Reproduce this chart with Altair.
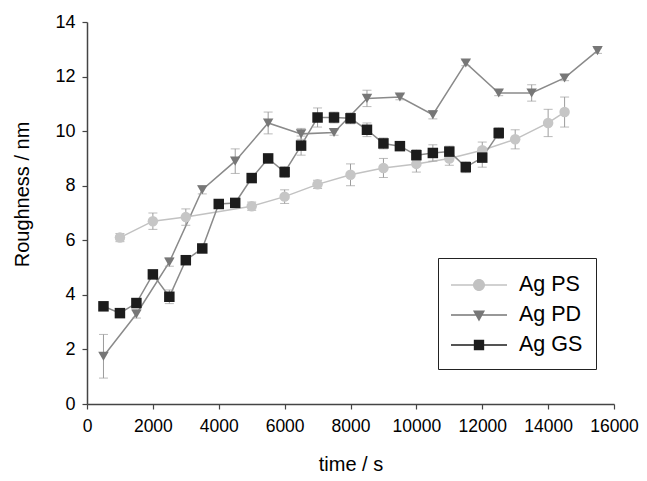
import altair as alt
import pandas as pd

series_names = ["Ag PS", "Ag PD", "Ag GS"]

ps_t = [1000, 2000, 3000, 5000, 6000, 7000, 8000, 9000, 10000, 11000, 12000, 13000, 14000, 14500]
ps_v = [6.1, 6.7, 6.85, 7.25, 7.6, 8.05, 8.4, 8.65, 8.8, 9.0, 9.3, 9.7, 10.3, 10.7]
ps_e = [0.15, 0.3, 0.3, 0.15, 0.25, 0.15, 0.4, 0.35, 0.3, 0.25, 0.3, 0.35, 0.5, 0.55]

pd_t = [500, 1500, 2500, 3500, 4500, 5500, 6500, 7500, 8500, 9500, 10500, 11500, 12500, 13500, 14500, 15500]
pd_v = [1.75, 3.3, 5.2, 7.85, 8.9, 10.3, 9.9, 9.95, 11.2, 11.25, 10.6, 12.5, 11.4, 11.4, 11.95, 12.95]
pd_e = [0.8, 0.15, 0.15, 0.15, 0.45, 0.4, 0.2, 0.1, 0.3, 0.1, 0.15, 0.1, 0.1, 0.3, 0.1, 0.1]

gs_t = [500, 1000, 1500, 2000, 2500, 3000, 3500, 4000, 4500, 5000, 5500, 6000, 6500,
        7000, 7500, 8000, 8500, 9000, 9500, 10000, 10500, 11000, 11500, 12000, 12500]
gs_v = [3.58, 3.33, 3.7, 4.75, 3.93, 5.27, 5.7, 7.33, 7.37, 8.28, 9.0, 8.5, 9.47,
        10.5, 10.5, 10.47, 10.05, 9.55, 9.45, 9.12, 9.2, 9.25, 8.68, 9.03, 9.93]
gs_e = [0.1, 0.1, 0.15, 0.1, 0.25, 0.1, 0.1, 0.15, 0.15, 0.15, 0.15, 0.2, 0.35,
        0.35, 0.2, 0.2, 0.25, 0.2, 0.15, 0.2, 0.3, 0.2, 0.2, 0.35, 0.2]

x_ticks = [0, 2000, 4000, 6000, 8000, 10000, 12000, 14000, 16000]
y_ticks = [0, 2, 4, 6, 8, 10, 12, 14]

rows = []
for name, ts, vs, es in [("Ag PS", ps_t, ps_v, ps_e), ("Ag PD", pd_t, pd_v, pd_e), ("Ag GS", gs_t, gs_v, gs_e)]:
    for t, v, e in zip(ts, vs, es):
        rows.append({"series": name, "t": t, "v": v, "lo": v - e, "hi": v + e})
df = pd.DataFrame(rows)

FONT = "Liberation Sans"

xscale = alt.Scale(domain=[0, 16000], nice=False)
yscale = alt.Scale(domain=[0, 14], nice=False)
xaxis = alt.Axis(values=x_ticks, title="time / s", labelPadding=8, titleY=66,
                 titleBaseline="alphabetic", format="d", labelOverlap=False,
                 labelFlush=False, labelFontSize=17.5)
yaxis = alt.Axis(values=y_ticks, title="Roughness / nm", labelPadding=7, titleX=-59,
                 titleY=172, titleBaseline="alphabetic", titleAlign="center", titleAngle=270,
                 labelOverlap=False, labelFlush=False)


def X(field):
    return alt.X(field, type="quantitative", scale=xscale, axis=xaxis)


def Y(field):
    return alt.Y(field, type="quantitative", scale=yscale, axis=yaxis)


base = alt.Chart(df)

lines = base.mark_line(strokeWidth=1.5).encode(
    x=X("t"), y=Y("v"),
    stroke=alt.Stroke("series:N", scale=alt.Scale(domain=series_names,
                      range=["#c2c2c2", "#8a8a8a", "#8a8a8a"]), legend=None),
    order="t:Q",
)

err_col = "#9c9c9c"
rules = base.mark_rule(strokeWidth=1, color=err_col).encode(x=X("t"), y=Y("lo"), y2="hi:Q")
cap_lo = base.mark_tick(orient="horizontal", size=9, thickness=1, color=err_col).encode(x=X("t"), y=Y("lo"))
cap_hi = base.mark_tick(orient="horizontal", size=9, thickness=1, color=err_col).encode(x=X("t"), y=Y("hi"))

points = base.mark_point(filled=True, size=110, opacity=1, strokeWidth=0).encode(
    x=X("t"), y=Y("v"),
    fill=alt.Fill("series:N", scale=alt.Scale(domain=series_names,
                  range=["#c6c6c6", "#777777", "#1c1c1c"]), legend=None),
    shape=alt.Shape("series:N", scale=alt.Scale(domain=series_names,
                    range=["circle", "triangle-down", "square"]), legend=None),
)

# legend symbols: line + marker drawn as one filled path (unit = 14 px)
p_ps = "M-2,-0.055H2V0.055H-2Z M-0.43,0A0.43,0.43,0,1,1,0.43,0A0.43,0.43,0,1,1,-0.43,0Z"
p_pd = "M-2,-0.055H2V0.055H-2Z M-0.43,-0.32L0.43,-0.32L0,0.46Z"
p_gs = "M-2,-0.045H2V0.045H-2Z M-0.37,-0.37H0.37V0.37H-0.37Z"

leg = alt.Legend(
    title=None, orient="none", legendX=351, legendY=236, padding=13,
    strokeColor="#222", fillColor="white", labelFontSize=21.5, labelFont=FONT,
    labelColor="black", rowPadding=5, labelOffset=26, symbolSize=784,
    symbolOffset=14, symbolOpacity=1, symbolStrokeWidth=0,
)

legend_layer = base.mark_point(filled=True, size=784, opacity=0, strokeWidth=0).encode(
    x=X("t"), y=Y("v"),
    fill=alt.Fill("series:N", scale=alt.Scale(domain=series_names,
                  range=["#c2c2c2", "#777777", "#1c1c1c"]), legend=leg),
    shape=alt.Shape("series:N", scale=alt.Scale(domain=series_names,
                    range=[p_ps, p_pd, p_gs]), legend=leg),
)

chart = alt.layer(lines, rules, cap_lo, cap_hi, points, legend_layer).resolve_scale(
    fill="independent", shape="independent"
).resolve_legend(fill="independent", shape="independent").properties(
    width=527, height=382,
    autosize=alt.AutoSizeParams(type="none"),
    padding={"left": 79, "top": 14, "right": 25, "bottom": 69},
).configure_view(stroke=None).configure_axis(
    grid=False, domainColor="#444", domainWidth=1.5, tickColor="#444", tickWidth=1.2,
    tickSize=5, labelFont=FONT, labelFontSize=18, labelColor="black",
    titleFont=FONT, titleFontSize=20, titleFontWeight="normal", titleColor="black",
)

chart.save("out.html", embed_options={"renderer": "svg", "actions": False})
